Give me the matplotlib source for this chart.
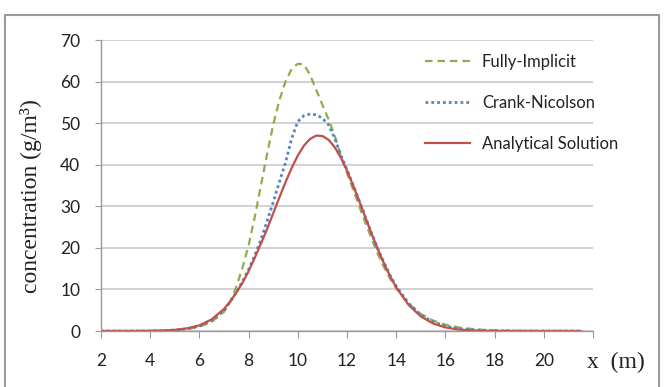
import matplotlib
matplotlib.use('Agg')
import matplotlib.pyplot as plt
from matplotlib.patches import Rectangle

# distance along x (m)
x_m = [2, 2.5, 3, 3.5, 4, 4.5, 5, 5.5, 6, 6.5,
       7, 7.25, 7.5, 7.75, 8, 8.25, 8.5, 8.75, 9, 9.25, 9.5, 9.75,
       10, 10.25, 10.5, 10.75, 11, 11.25, 11.5, 11.75, 12, 12.25, 12.5, 12.75,
       13, 13.25, 13.5, 13.75,
       14, 14.5, 15, 15.5, 16, 16.5, 17, 17.5, 18, 18.5, 19, 19.5, 20, 20.5, 21, 21.5]

# concentration (g/m3)
fully_implicit = [0, 0, 0, 0, 0.02, 0.06, 0.17, 0.42, 1.0, 2.2,
                  4.6, 7.0, 10.6, 15.2, 20.6, 27.4, 35.0, 42.5, 49.6, 55.5, 60.0, 63.0,
                  64.3, 64.1, 61.6, 58.0, 54.4, 50.9, 47.0, 42.2, 38.0, 34.0, 30.0, 26.0,
                  22.2, 18.6, 15.4, 12.6,
                  10.3, 6.6, 4.1, 2.5, 1.5, 0.9, 0.55, 0.3, 0.15, 0.08, 0.04, 0.02, 0, 0, 0, 0]

crank_nicolson = [0, 0, 0, 0.01, 0.03, 0.09, 0.23, 0.55, 1.2, 2.5,
                  5.0, 7.0, 9.3, 11.9, 14.8, 18.2, 22.0, 26.4, 31.0, 35.8, 40.5, 46.3,
                  50.4, 51.8, 52.2, 52.0, 51.2, 49.6, 46.4, 42.3, 38.8, 35.1, 31.3, 27.4,
                  23.5, 19.8, 16.5, 13.4,
                  10.8, 6.7, 3.9, 2.2, 1.2, 0.6, 0.3, 0.15, 0.07, 0.03, 0.01, 0, 0, 0, 0, 0]

analytical = [0, 0, 0, 0.01, 0.04, 0.11, 0.27, 0.63, 1.35, 2.8,
              5.3, 7.1, 9.2, 11.6, 14.4, 17.6, 21.0, 24.5, 28.3, 32.1, 35.8, 39.2,
              42.2, 44.6, 46.2, 47.0, 46.9, 46.0, 44.2, 41.7, 38.6, 35.0, 31.2, 27.3,
              23.4, 19.7, 16.3, 13.2,
              10.5, 6.3, 3.5, 1.8, 0.86, 0.38, 0.16, 0.06, 0.02, 0, 0, 0, 0, 0, 0, 0]

x_ticks = [2, 4, 6, 8, 10, 12, 14, 16, 18, 20, 22]
x_tick_labels = ['2', '4', '6', '8', '10', '12', '14', '16', '18', '20', '']
y_ticks = [0, 10, 20, 30, 40, 50, 60, 70]

W, H = 665, 387
fig = plt.figure(figsize=(W / 100, H / 100), dpi=100)
ax = fig.add_axes([101 / W, 1 - 331 / H, 492 / W, 291 / H])

ax.plot(x_m, fully_implicit, color='#8ead4c', lw=1.6, linestyle=(0, (3.4, 2.2)),
        label='Fully-Implicit')
ax.plot(x_m, crank_nicolson, color='#5486c4', lw=2.0, linestyle=(0, (1, 1.1)),
        label='Crank-Nicolson')
ax.plot(x_m, analytical, color='#c0504d', lw=1.6, label='Analytical Solution')

ax.set_xlim(2, 22)
ax.set_ylim(0, 70)
ax.set_xticks(x_ticks)
ax.set_xticklabels(x_tick_labels)
ax.set_yticks(y_ticks)
ax.grid(axis='y', color='#cfcfcf', lw=1.3)
ax.set_axisbelow(True)
for s in ['top', 'right']:
    ax.spines[s].set_visible(False)
for s in ['left', 'bottom']:
    ax.spines[s].set_color('#9a9a9a')
    ax.spines[s].set_linewidth(1.0)
ax.tick_params(axis='x', length=5, color='#9a9a9a', pad=11, labelsize=12.5,
               labelcolor='#222222')
ax.tick_params(axis='y', length=4, color='#9a9a9a', pad=11, labelsize=12.5,
               labelcolor='#222222')
for lab in ax.get_xticklabels() + ax.get_yticklabels():
    lab.set_fontfamily('Lato')

leg = ax.legend(loc='upper left', bbox_to_anchor=(0.642, 0.982), frameon=False,
                borderpad=0, handlelength=2.7, handletextpad=0.7,
                labelspacing=1.5, prop={'family': 'Lato', 'size': 12})
for t in leg.get_texts():
    t.set_color('#222222')

fig.text(31 / W, 1 - 196 / H, 'concentration (g/m³)', rotation=90,
         ha='center', va='center', family='Liberation Serif', fontsize=17,
         color='#222222')
fig.text(587 / W, 1 - 362 / H, 'x  (m)', ha='left', va='center',
         family='Liberation Serif', fontsize=17, color='#222222')

# outer frame of the picture
fig.patches.append(Rectangle((5 / W, -0.05), 654 / W, 1.05 - 15 / H,
                             transform=fig.transFigure, fill=False,
                             edgecolor='#9a9a9a', lw=1.5))

fig.savefig('out.png', dpi=100)
